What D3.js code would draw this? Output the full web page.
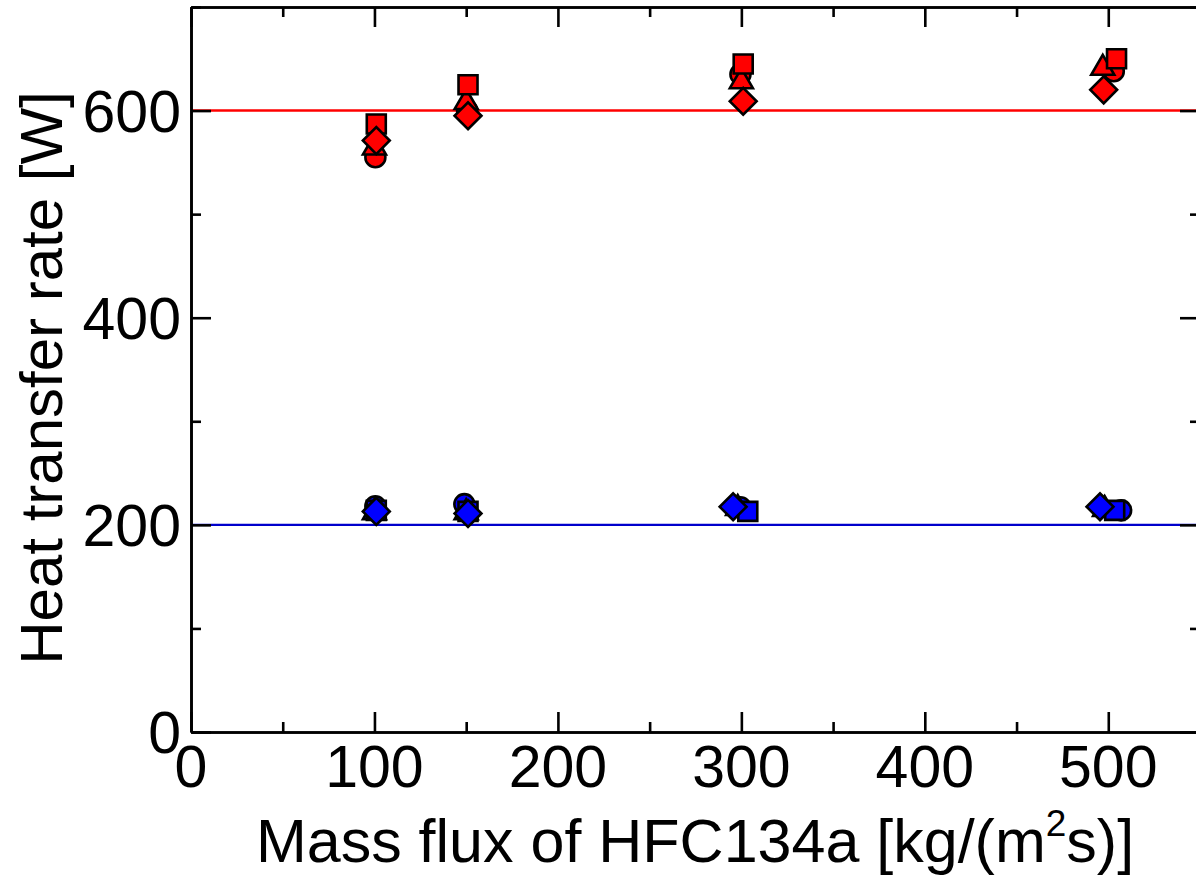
<!DOCTYPE html>
<html>
<head>
<meta charset="utf-8">
<script src="https://cdn.jsdelivr.net/npm/d3@7"></script>
<style>
  html, body { margin: 0; padding: 0; background: #fff; }
  svg { display: block; font-family: "Liberation Sans", Arial, sans-serif; }
</style>
</head>
<body>
<svg id="chart" width="1196" height="877"></svg>
<script>
// Measured heat transfer rate vs. refrigerant mass flux.
// Each marker shape is one test series; red = high heat input, blue = low heat input.
const shapes = ["circle", "triangle", "square", "diamond"];

const circleHighX = [100.5, 150.5, 299.5, 503];
const circleHighY = [555, 600, 635, 638];
const circleLowX  = [100.5, 149, 299.5, 507];
const circleLowY  = [218, 220, 217, 214];

const triangleHighX = [100, 150, 300, 497];
const triangleHighY = [564, 608, 628, 641];
const triangleLowX  = [100, 150, 298, 498];
const triangleLowY  = [212, 212, 216, 215];

const squareHighX = [101, 151, 301, 504.5];
const squareHighY = [587, 625, 645, 650];
const squareLowX  = [101, 151, 303.5, 503.5];
const squareLowY  = [214, 213, 213, 214];

const diamondHighX = [101, 151, 301, 497.5];
const diamondHighY = [571, 595, 609, 620];
const diamondLowX  = [101, 151, 295.5, 495.5];
const diamondLowY  = [213, 211, 217.5, 217.5];

// Reference (set-point) heat inputs
const referenceLevels = [600, 200];

const xTicks = [0, 100, 200, 300, 400, 500];
const yTicks = [0, 200, 400, 600];
const xMinorTicks = [50, 150, 250, 350, 450];
const yMinorTicks = [100, 300, 500, 700];

const xTitle = "Mass flux of HFC134a [kg/(m";
const yTitle = "Heat transfer rate [W]";

const seriesData = {
  circle:   { high: [circleHighX, circleHighY],     low: [circleLowX, circleLowY] },
  triangle: { high: [triangleHighX, triangleHighY], low: [triangleLowX, triangleLowY] },
  square:   { high: [squareHighX, squareHighY],     low: [squareLowX, squareLowY] },
  diamond:  { high: [diamondHighX, diamondHighY],   low: [diamondLowX, diamondLowY] }
};

const colors = { high: "#ff0000", low: "#0000ff" };
const lineColors = { 600: "#ff0000", 200: "#0000cc" };

const margin = { left: 191, top: 7, right: 1200, bottom: 732 };
const svg = d3.select("#chart");

const x = d3.scaleLinear().domain([0, 550]).range([margin.left, margin.right]);
const y = d3.scaleLinear().domain([0, 700]).range([margin.bottom, margin.top]);

// reference lines
svg.append("g").selectAll("line").data(referenceLevels).join("line")
  .attr("x1", x(0)).attr("x2", x(550))
  .attr("y1", d => y(d)).attr("y2", d => y(d))
  .attr("stroke", d => lineColors[d]).attr("stroke-width", 2.4);

// axes: ticks point inward on all four sides
const majorLen = 20, minorLen = 10, axisW = 2.6;
const axes = svg.append("g");
const addAxis = (gen, tx, ty, ticks, len) => {
  const g = axes.append("g").attr("transform", `translate(${tx},${ty})`)
    .call(gen.tickValues(ticks).tickSize(len).tickSizeOuter(0).tickFormat(""));
  g.select(".domain").attr("stroke", "#000").attr("stroke-width", axisW);
  g.selectAll(".tick line").attr("stroke", "#000").attr("stroke-width", axisW);
  return g;
};
// bottom (ticks upward) and top (ticks downward)
addAxis(d3.axisTop(x), 0, margin.bottom, xTicks, majorLen);
addAxis(d3.axisTop(x), 0, margin.bottom, xMinorTicks, minorLen);
addAxis(d3.axisBottom(x), 0, margin.top, xTicks, majorLen);
addAxis(d3.axisBottom(x), 0, margin.top, xMinorTicks, minorLen);
// left (ticks rightward) and right (ticks leftward)
addAxis(d3.axisRight(y), margin.left, 0, yTicks, majorLen);
addAxis(d3.axisRight(y), margin.left, 0, yMinorTicks, minorLen);
addAxis(d3.axisLeft(y), margin.right, 0, yTicks, majorLen);
addAxis(d3.axisLeft(y), margin.right, 0, yMinorTicks, minorLen);

// tick labels
const fs = 59;
svg.append("g").selectAll("text").data(xTicks).join("text")
  .attr("x", d => x(d)).attr("y", 787)
  .attr("text-anchor", "middle").attr("font-size", fs).attr("fill", "#000")
  .text(d => d);
svg.append("g").selectAll("text").data(yTicks).join("text")
  .attr("x", 181).attr("y", d => y(d) + 21)
  .attr("text-anchor", "end").attr("font-size", fs).attr("fill", "#000")
  .text(d => d);

// axis titles
const tfs = 61;
const xt = svg.append("text").attr("x", 695).attr("y", 862)
  .attr("text-anchor", "middle").attr("font-size", tfs).attr("fill", "#000");
xt.append("tspan").text(xTitle);
xt.append("tspan").attr("font-size", 37).attr("dy", -26).text("2");
xt.append("tspan").attr("dy", 26).text("s)]");

svg.append("text")
  .attr("transform", "translate(62,378) rotate(-90)")
  .attr("text-anchor", "middle").attr("font-size", 60).attr("fill", "#000")
  .text(yTitle);

// markers
const symbolOf = {
  circle:   d3.symbol().type(d3.symbolCircle).size(Math.PI * 10 * 10),
  triangle: d3.symbol().type(d3.symbolTriangle).size(230),
  square:   d3.symbol().type(d3.symbolSquare).size(19 * 19),
  diamond:  d3.symbol().type(d3.symbolSquare).size(19 * 19)
};

const points = [];
shapes.forEach(s => {
  ["high", "low"].forEach(level => {
    const [xs, ys] = seriesData[s][level];
    xs.forEach((xv, i) => points.push({ shape: s, level, x: xv, y: ys[i] }));
  });
});

const markers = svg.append("g");
shapes.forEach(s => {
  markers.append("g").selectAll("path").data(points.filter(p => p.shape === s)).join("path")
    .attr("d", symbolOf[s]())
    .attr("transform", p => `translate(${x(p.x)},${y(p.y)})` + (s === "diamond" ? " rotate(45)" : ""))
    .attr("fill", p => colors[p.level])
    .attr("stroke", "#000").attr("stroke-width", 2.6).attr("stroke-linejoin", "miter");
});
</script>
</body>
</html>
